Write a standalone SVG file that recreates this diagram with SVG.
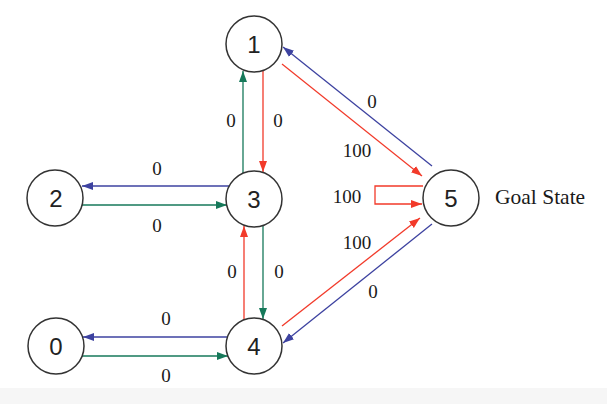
<svg xmlns="http://www.w3.org/2000/svg" width="607" height="404" viewBox="0 0 607 404">
<style>
.node circle{fill:#fff;stroke:#333;stroke-width:1.5}
.node text{font-family:"Liberation Sans",Arial,sans-serif;font-size:24px;fill:#222;text-anchor:middle}
.lbl{font-family:"Liberation Serif","Times New Roman",serif;font-size:19px;fill:#1a1a1a;text-anchor:middle}
.b{stroke:#3d42a0;stroke-width:1.3;fill:none;marker-end:url(#mb)}
.g{stroke:#16795a;stroke-width:1.3;fill:none;marker-end:url(#mg)}
.r{stroke:#f23a2a;stroke-width:1.3;fill:none;marker-end:url(#mr)}
</style>
<defs>
<marker id="mb" markerUnits="userSpaceOnUse" markerWidth="12" markerHeight="10" refX="11" refY="4" orient="auto"><path d="M0,0 L11,4 L0,8 Z" fill="#3d42a0"/></marker>
<marker id="mg" markerUnits="userSpaceOnUse" markerWidth="12" markerHeight="10" refX="11" refY="4" orient="auto"><path d="M0,0 L11,4 L0,8 Z" fill="#16795a"/></marker>
<marker id="mr" markerUnits="userSpaceOnUse" markerWidth="12" markerHeight="10" refX="11" refY="4" orient="auto"><path d="M0,0 L11,4 L0,8 Z" fill="#f23a2a"/></marker>
</defs>
<rect x="0" y="0" width="607" height="404" fill="#fff"/>
<rect x="0" y="388" width="607" height="16" fill="#f6f6f6"/>
<g id="connectors">
<line class="b" x1="229" y1="186" x2="82" y2="186"/>
<line class="g" x1="82" y1="205" x2="227" y2="205"/>
<line class="b" x1="227" y1="337" x2="83" y2="337"/>
<line class="g" x1="82" y1="356" x2="228" y2="356"/>
<line class="g" x1="243" y1="173" x2="243" y2="71"/>
<line class="r" x1="263" y1="71" x2="263" y2="172"/>
<line class="r" x1="244" y1="320" x2="244" y2="226"/>
<line class="g" x1="263" y1="226" x2="263" y2="319"/>
<line class="b" x1="432" y1="166" x2="283" y2="47"/>
<line class="r" x1="282" y1="64" x2="422" y2="176"/>
<line class="r" x1="282" y1="326" x2="420" y2="218"/>
<line class="b" x1="432" y1="224" x2="283" y2="343"/>
<path class="r" d="M423,186 H375 V204 H422"/>
</g>
<g id="labels">
<text class="lbl" x="157" y="175">0</text>
<text class="lbl" x="157" y="232">0</text>
<text class="lbl" x="166" y="325">0</text>
<text class="lbl" x="166" y="382">0</text>
<text class="lbl" x="231" y="127">0</text>
<text class="lbl" x="278" y="127">0</text>
<text class="lbl" x="232" y="278">0</text>
<text class="lbl" x="279" y="278">0</text>
<text class="lbl" x="372" y="108">0</text>
<text class="lbl" x="357" y="157">100</text>
<text class="lbl" x="347" y="203">100</text>
<text class="lbl" x="357" y="249">100</text>
<text class="lbl" x="373" y="298">0</text>
<text class="lbl" x="495" y="204" style="text-anchor:start;font-size:21.5px">Goal State</text>
</g>
<g id="node1" class="node"><circle cx="254" cy="44" r="28"/><text x="254" y="53">1</text></g>
<g id="node2" class="node"><circle cx="55" cy="198" r="28"/><text x="56" y="207">2</text></g>
<g id="node3" class="node"><circle cx="254" cy="199" r="28"/><text x="254" y="208">3</text></g>
<g id="node0" class="node"><circle cx="56" cy="346" r="28"/><text x="56" y="355">0</text></g>
<g id="node4" class="node"><circle cx="254" cy="346" r="28"/><text x="254" y="355">4</text></g>
<g id="node5" class="node"><circle cx="451" cy="198" r="28"/><text x="451" y="207">5</text></g>
</svg>
